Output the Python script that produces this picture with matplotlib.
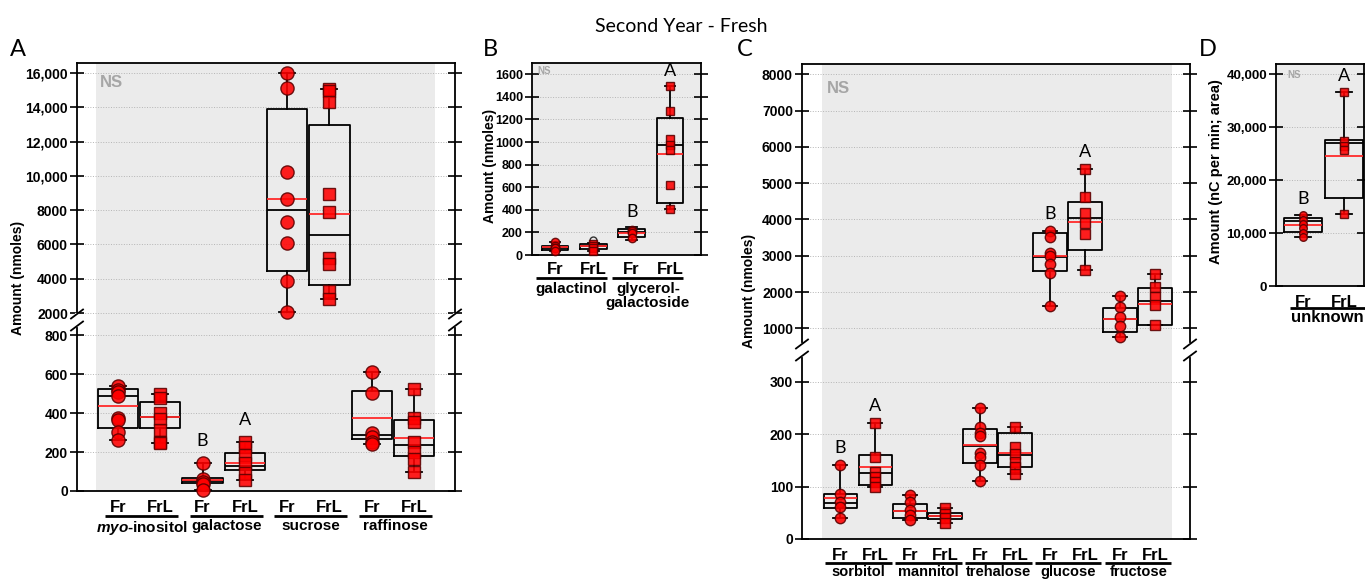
import numpy as np
import matplotlib.pyplot as plt
import matplotlib.transforms as mtransforms
from matplotlib.lines import Line2D

plt.rcParams['font.family'] = ['Liberation Sans', 'DejaVu Sans']
plt.rcParams['mathtext.fontset'] = 'custom'
plt.rcParams['mathtext.it'] = 'Liberation Sans:italic:bold'

W, H = 1365, 581
fig = plt.figure(figsize=(W / 100, H / 100), dpi=100)

# ---------------- data ----------------
# box rows: (q1, median, q3, mean, whisker low, whisker high)
a_cats = ['$\\it{myo}$-inositol', 'galactose', 'sucrose', 'raffinose']
a_fr_pts = [[540, 520, 510, 485, 375, 365, 305, 262],
            [145, 62, 48, 36, 5],
            [16000, 15140, 10240, 8650, 7330, 6100, 3860, 2060],
            [612, 501, 296, 279, 253, 241]]
a_frl_pts = [[496, 479, 398, 368, 313, 253, 244],
             [253, 227, 185, 142, 91, 56],
             [15040, 14950, 14310, 8960, 7900, 5220, 4880, 3270, 2820],
             [521, 376, 356, 253, 202, 162, 99]]
a_fr_box = [(323, 485, 521, 436, 262, 540), (43, 53, 68, 56, 5, 145),
            (4450, 8020, 13900, 8670, 2060, 16000), (268, 285, 511, 374, 241, 612)]
a_frl_box = [(325, 378, 456, 380, 244, 496), (108, 130, 193, 145, 56, 253),
             (3650, 6570, 12980, 7765, 2820, 15040), (181, 236, 362, 273, 99, 521)]
a_sig_fr = ['', 'B', '', '']
a_sig_frl = ['', 'A', '', '']

b_cats = ['galactinol', 'glycerol-\ngalactoside']
b_fr_pts = [[118, 80, 66, 59, 38], [221, 210, 198, 147]]
b_frl_pts = [[97, 80, 59, 38], [1499, 1277, 1024, 973, 929, 619, 404]]
b_fr_box = [(44, 65, 80, 68, 38, 118), (156, 204, 227, 192, 133, 250)]
b_frl_box = [(56, 77, 97, 80, 38, 110), (463, 970, 1209, 897, 404, 1499)]
b_frl_fliers = [[133], []]
b_sig_fr = ['', 'B']
b_sig_frl = ['', 'A']

c_cats = ['sorbitol', 'mannitol', 'trehalose', 'glucose', 'fructose']
c_fr_pts = [[142, 86, 71, 62, 41],
            [84, 71, 55, 46, 36],
            [251, 214, 203, 196, 165, 157, 141, 111],
            [3690, 3510, 3070, 2980, 2780, 2520, 1620],
            [1890, 1600, 1300, 1050, 770]]
c_frl_pts = [[222, 157, 128, 119, 109, 100],
             [60, 47, 41, 30],
             [214, 176, 163, 148, 138, 125],
             [5380, 4610, 4190, 3910, 3600, 2610],
             [2490, 2150, 1875, 1645, 1090]]
c_fr_box = [(60, 68, 86, 78, 41, 142), (40, 53, 67, 54, 36, 84),
            (146, 177, 211, 179, 111, 251), (2580, 2960, 3620, 2980, 1620, 3670),
            (900, 1250, 1570, 1250, 770, 1890)]
c_frl_box = [(103, 127, 160, 138, 100, 222), (39, 43, 49, 44, 30, 60),
             (138, 160, 203, 165, 125, 214), (3160, 4030, 4490, 3940, 2610, 5380),
             (1085, 1755, 2105, 1682, 1085, 2490)]
c_sig_fr = ['B', '', '', 'B', '']
c_sig_frl = ['A', '', '', 'A', '']

d_cats = ['unknown']
d_fr_pts = [[13420, 12470, 11720, 10900, 10080, 9320]]
d_frl_pts = [[36600, 27400, 26450, 25700, 13550]]
d_fr_box = [(10270, 12280, 12790, 11530, 9320, 13420)]
d_frl_box = [(16570, 26960, 27590, 24620, 13550, 36600)]
d_sig_fr = ['B']
d_sig_frl = ['A']

GREY = '#ebebeb'
RED = '#ff0000'
EDGE = '#5a0000'


def add_ax(x0, y0, x1, y1):
    return fig.add_axes([x0 / W, 1 - y1 / H, (x1 - x0) / W, (y1 - y0) / H])


def fig_line(xs, ys, **kw):
    fig.add_artist(Line2D([x / W for x in xs], [1 - y / H for y in ys],
                          transform=fig.transFigure, **kw))


def style(ax, xlim, ylim, ticks, labels, fs, grey=None):
    ax.set_xlim(xlim)
    ax.set_ylim(ylim)
    ax.set_xticks([])
    ax.set_yticks(ticks, labels, fontsize=fs, fontweight='bold')
    ax.tick_params(axis='y', direction='inout', length=10, width=1.2, right=True, pad=1.5)
    ax.yaxis.grid(True, ls=':', lw=0.7, color='#b5b5b5')
    for s in ax.spines.values():
        s.set_linewidth(1.3)
    if grey:
        ax.axvspan(grey[0], grey[1], color=GREY, lw=0, zorder=0)
    else:
        ax.set_facecolor(GREY)


def stats(rows, fliers=None):
    out = []
    for i, r in enumerate(rows):
        f = fliers[i] if fliers else []
        out.append(dict(q1=r[0], med=r[1], q3=r[2], mean=r[3], whislo=r[4], whishi=r[5], fliers=f))
    return out


def draw(ax, fr_pts, frl_pts, fr_box, frl_box, width, ms, fliers=None):
    n = len(fr_pts)
    fr_pos = list(np.arange(n) * 2 + 1)
    frl_pos = [p + 1 for p in fr_pos]
    lo, hi = ax.get_ylim()
    lw = 1.3
    ax.bxp(stats(fr_box) + stats(frl_box, fliers), positions=fr_pos + frl_pos,
           widths=width, capwidths=width * 0.4, showmeans=True, meanline=True,
           manage_ticks=False,
           boxprops=dict(color='black', lw=lw), whiskerprops=dict(color='black', lw=lw),
           capprops=dict(color='black', lw=lw), medianprops=dict(color='black', lw=lw),
           meanprops=dict(color='#ff2a2a', ls='-', lw=lw),
           flierprops=dict(marker='o', mfc='none', mec='#333333', ms=5))
    for pos, groups, mk, size in ((fr_pos, fr_pts, 'o', ms[0]), (frl_pos, frl_pts, 's', ms[1])):
        for p, vals in zip(pos, groups):
            v = [x for x in vals if lo <= x <= hi]
            ax.plot([p] * len(v), v, ls='none', marker=mk, ms=size, mfc=RED, mec=EDGE,
                    mew=1.0, alpha=0.88, clip_on=False, zorder=4)


def sig(axes, fr_box, frl_box, s_fr, s_frl, dy, fs=13):
    for i in range(len(fr_box)):
        for p, box, s in ((2 * i + 1, fr_box[i], s_fr[i]), (2 * i + 2, frl_box[i], s_frl[i])):
            if not s:
                continue
            for ax in axes:
                lo, hi = ax.get_ylim()
                if lo <= box[5] <= hi:
                    ax.annotate(s, (p, box[5]), xytext=(0, dy), textcoords='offset pixels',
                                ha='center', va='center', fontsize=fs, family='Lato',
                                annotation_clip=False)


def xlabels(ax, cats, offs, span, fs_fr, fs_cat):
    tr = ax.get_xaxis_transform()
    ltr = mtransforms.offset_copy(tr, fig=fig, y=-offs[1], units='dots')
    for i, cat in enumerate(cats):
        p1, p2 = 2 * i + 1, 2 * i + 2
        for p, t in ((p1, 'Fr'), (p2, 'FrL')):
            ax.annotate(t, (p, 0), xycoords=tr, xytext=(0, -offs[0]), textcoords='offset pixels',
                        ha='center', va='center', fontsize=fs_fr, fontweight='bold',
                        annotation_clip=False)
        ax.plot([p1 + span[0], p2 + span[1]], [0, 0], transform=ltr, color='black',
                lw=2, clip_on=False, solid_capstyle='butt')
        ax.annotate(cat, ((p1 + p2) / 2 + (span[0] + span[1]) / 2, 0), xycoords=tr,
                    xytext=(0, -offs[2]), textcoords='offset pixels', ha='center', va='top',
                    fontsize=fs_cat, fontweight='bold', annotation_clip=False,
                    linespacing=1.0)


def brk(xs, yj):
    for x in xs:
        fig_line([x, x], [yj - 5, yj + 5], color='white', lw=3)
        for yc in (yj - 6, yj + 6):
            fig_line([x - 6, x + 6], [yc + 4.5, yc - 4.5], color='black', lw=1.3)


# ---------------- panel A ----------------
a_top = add_ax(77, 63, 455, 320)
a_bot = add_ax(77, 320, 455, 491)
a_xlim = (0.03, 8.97)
style(a_top, a_xlim, (1592, 16583), [2000, 4000, 6000, 8000, 10000, 12000, 14000, 16000],
      ['2000', '4000', '6000', '8000', '10,000', '12,000', '14,000', '16,000'], 10, (0.49, 8.49))
style(a_bot, a_xlim, (0, 877), [0, 200, 400, 600, 800],
      ['0', '200', '400', '600', '800'], 10, (0.49, 8.49))
a_top.spines['bottom'].set_visible(False)
a_bot.spines['top'].set_visible(False)
for ax in (a_top, a_bot):
    draw(ax, a_fr_pts, a_frl_pts, a_fr_box, a_frl_box, 0.95, (9.5, 8))
sig((a_top, a_bot), a_fr_box, a_frl_box, a_sig_fr, a_sig_frl, 22)
xlabels(a_bot, a_cats, (16, 25, 28), (-0.3, 0.42), 12, 11)
a_top.text(0.06, 0.925, 'NS', transform=a_top.transAxes, color='#a6a6a6',
           fontsize=12, fontweight='bold', va='center')
brk((77, 455), 320)

# ---------------- panel B ----------------
b_ax = add_ax(532, 63, 701, 255)
style(b_ax, (0.4, 4.81), (0, 1700), list(range(0, 1601, 200)),
      [str(v) for v in range(0, 1601, 200)], 9)
draw(b_ax, b_fr_pts, b_frl_pts, b_fr_box, b_frl_box, 0.7, (6, 5.5), b_frl_fliers)
sig((b_ax,), b_fr_box, b_frl_box, b_sig_fr, b_sig_frl, 15)
xlabels(b_ax, b_cats, (15, 23, 27), (-0.5, 0.35), 12, 11)
b_ax.text(0.03, 0.96, 'NS', transform=b_ax.transAxes, color='#a6a6a6',
          fontsize=7, fontweight='bold', va='center')

# ---------------- panel C ----------------
c_top = add_ax(802, 64, 1190, 350)
c_bot = add_ax(802, 350, 1190, 539)
c_xlim = (-0.09, 11.0)
style(c_top, c_xlim, (402, 8284), list(range(1000, 8001, 1000)),
      [str(v) for v in range(1000, 8001, 1000)], 10, (0.49, 10.49))
style(c_bot, c_xlim, (0, 361), [0, 100, 200, 300], ['0', '100', '200', '300'], 10, (0.49, 10.49))
c_top.spines['bottom'].set_visible(False)
c_bot.spines['top'].set_visible(False)
for ax in (c_top, c_bot):
    draw(ax, c_fr_pts, c_frl_pts, c_fr_box, c_frl_box, 0.95, (7.5, 6.5))
sig((c_top, c_bot), c_fr_box, c_frl_box, c_sig_fr, c_sig_frl, 17)
xlabels(c_bot, c_cats, (17, 24, 26), (-0.42, 0.47), 12, 10.5)
c_top.text(0.065, 0.915, 'NS', transform=c_top.transAxes, color='#a6a6a6',
           fontsize=12, fontweight='bold', va='center')
brk((802, 1190), 350)

# ---------------- panel D ----------------
d_ax = add_ax(1276, 64, 1364, 286)
style(d_ax, (0.34, 2.49), (0, 41946), [0, 10000, 20000, 30000, 40000],
      ['0', '10,000', '20,000', '30,000', '40,000'], 9.5)
draw(d_ax, d_fr_pts, d_frl_pts, d_fr_box, d_frl_box, 0.95, (5.5, 5.5))
sig((d_ax,), d_fr_box, d_frl_box, d_sig_fr, d_sig_frl, 16)
xlabels(d_ax, d_cats, (16, 22, 24), (-0.33, 0.53), 12, 12)
d_ax.text(0.13, 0.95, 'NS', transform=d_ax.transAxes, color='#a6a6a6',
          fontsize=7, fontweight='bold', va='center')

# ---------------- labels ----------------
for x, y, t, fs in ((18, 278, 'Amount (nmoles)', 10), (490, 166, 'Amount (nmoles)', 10),
                    (749, 291, 'Amount (nmoles)', 10), (1216, 172, 'Amount (nC per min; area)', 10.5)):
    fig.text(x / W, 1 - y / H, t, rotation=90, ha='center', va='center', fontsize=fs,
             fontweight='bold')
fig.text(681 / W, 1 - 26 / H, 'Second Year - Fresh', ha='center', va='center',
         fontsize=14, family='Lato')
for x, y, t in ((18, 50, 'A'), (490, 49, 'B'), (745, 49, 'C'), (1208, 50, 'D')):
    fig.text(x / W, 1 - y / H, t, ha='center', va='center', fontsize=17, family='Lato')

fig.savefig('out.png', dpi=100)
